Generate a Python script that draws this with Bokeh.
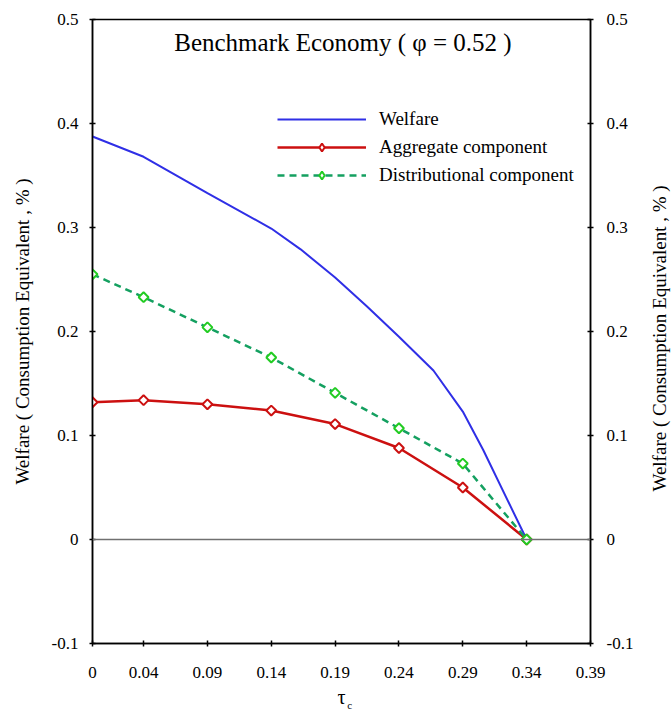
from bokeh.plotting import figure
from bokeh.models import (Range1d, LinearAxis, FixedTicker, Span, Label, Legend, LegendItem,
                          CDSView, IndexFilter)
from bokeh.embed import file_html
from bokeh.resources import INLINE
import numpy as np

# ---- data ----
tau_points = [0, 0.04, 0.09, 0.14, 0.19, 0.24, 0.29, 0.34]
aggregate = [0.132, 0.134, 0.130, 0.124, 0.111, 0.088, 0.050, 0.0]
distributional = [0.255, 0.233, 0.204, 0.175, 0.141, 0.107, 0.073, 0.0]
welfare_tau = [0, 0.04, 0.09, 0.14, 0.163, 0.19, 0.215, 0.24, 0.267, 0.29, 0.306, 0.34]
welfare = [0.3875, 0.368, 0.333, 0.299, 0.279, 0.252, 0.224, 0.195, 0.1625, 0.123, 0.086, 0.0]

x_ticks = [0, 0.04, 0.09, 0.14, 0.19, 0.24, 0.29, 0.34, 0.39]
x_tick_labels = ["0", "0.04", "0.09", "0.14", "0.19", "0.24", "0.29", "0.34", "0.39"]
y_ticks = [-0.1, 0, 0.1, 0.2, 0.3, 0.4, 0.5]
y_tick_labels = ["-0.1", "0", "0.1", "0.2", "0.3", "0.4", "0.5"]

title_text = "Benchmark Economy ( \u03c6 = 0.52 )"
y_label = "Welfare ( Consumption Equivalent , % )"
x_label = "\u03c4"
x_label_sub = "c"
series_names = ["Welfare", "Aggregate component", "Distributional component"]

FONT = "Liberation Serif"
BLUE = "#2F2FE6"
RED = "#CC1010"
GREEN_LINE = "#14A060"
GREEN_MARK = "#22CC22"

p = figure(frame_width=498, frame_height=624,
           min_border_left=92, min_border_right=78, min_border_top=19, min_border_bottom=0,
           x_range=Range1d(0, 0.39), y_range=Range1d(-0.1, 0.5),
           output_backend="svg", toolbar_location=None)
p.xgrid.visible = False
p.ygrid.visible = False
p.outline_line_color = "black"
p.outline_line_width = 1.5
p.background_fill_color = "white"
p.border_fill_color = "white"

# zero line
p.add_layout(Span(location=0, dimension="width", line_color="#707070", line_width=1.5))

# axes
def style_axis(ax, ticks, labels):
    ax.ticker = FixedTicker(ticks=ticks)
    ax.major_label_overrides = {t: l for t, l in zip(ticks, labels)}
    ax.minor_tick_line_color = None
    ax.major_tick_in = 3
    ax.major_tick_out = 3
    ax.major_tick_line_color = "black"
    ax.major_tick_line_width = 1.5
    ax.axis_line_color = "black"
    ax.axis_line_width = 1.5
    ax.major_label_text_font = FONT
    ax.major_label_text_font_size = "17px"
    ax.major_label_text_color = "black"
    ax.axis_label_text_font = FONT
    ax.axis_label_text_font_style = "normal"
    ax.axis_label_text_font_size = "19px"
    ax.axis_label_text_color = "black"

xa = p.xaxis[0]
style_axis(xa, x_ticks, x_tick_labels)
xa.major_label_standoff = 20
xa.axis_label = x_label
xa.axis_label_text_font_size = "20px"
xa.axis_label_standoff = 5

ya = p.yaxis[0]
style_axis(ya, y_ticks, y_tick_labels)
ya.major_label_standoff = 11
ya.axis_label = y_label
ya.axis_label_standoff = 16

ra = LinearAxis()
style_axis(ra, y_ticks, y_tick_labels)
ra.major_label_standoff = 13
ra.axis_label_standoff = 23
# right-hand label reads bottom-to-top like the left one; it is anchored at the
# frame's bottom and pushed up to the middle with em spaces
ra.axis_label = "\u2003" * 8 + y_label
try:
    ra.axis_label_orientation = np.pi / 2
    ra.axis_label_align = "start"
except Exception:
    ra.axis_label = y_label
p.add_layout(ra, "right")

# subscript "c" of the x-axis label, drawn as the single label of an extra bare axis
sub_pos = 0.2014
sa = LinearAxis(ticker=FixedTicker(ticks=[sub_pos]),
                major_label_overrides={sub_pos: x_label_sub})
sa.axis_line_color = None
sa.major_tick_line_color = None
sa.minor_tick_line_color = None
sa.major_tick_in = 0
sa.major_tick_out = 0
sa.major_label_standoff = -12
sa.major_label_text_font = FONT
sa.major_label_text_font_size = "11px"
sa.major_label_text_color = "black"
p.add_layout(sa, "below")

# series
r_w = p.line(welfare_tau, welfare, line_color=BLUE, line_width=2)
r_a = p.line(tau_points, aggregate, line_color=RED, line_width=2.5)
r_d = p.line(tau_points, distributional, line_color=GREEN_LINE, line_width=2.5, line_dash="7 5")

# diamond glyphs used for the legend symbols; only the first point is drawn and it is
# hidden under the rotated-square marker drawn on top of it
leg_am = p.scatter(tau_points, aggregate, marker="diamond", size=9, line_color=RED, line_width=2,
                   fill_color="white", view=CDSView(filter=IndexFilter(indices=[0])))
leg_dm = p.scatter(tau_points, distributional, marker="diamond", size=9, line_color=GREEN_MARK,
                   line_width=2, fill_color="white", view=CDSView(filter=IndexFilter(indices=[0])))

p.scatter(tau_points, aggregate, marker="square", angle=np.pi / 4, size=7,
          line_color=RED, line_width=2, fill_color="white")
p.scatter(tau_points, distributional, marker="square", angle=np.pi / 4, size=7,
          line_color=GREEN_MARK, line_width=2, fill_color="white")

legend = Legend(items=[LegendItem(label=series_names[0], renderers=[r_w]),
                       LegendItem(label=series_names[1], renderers=[r_a, leg_am]),
                       LegendItem(label=series_names[2], renderers=[r_d, leg_dm])],
                location=(185, 457), orientation="vertical",
                glyph_width=89, glyph_height=20, label_height=20, label_standoff=13,
                spacing=6, padding=0, margin=0,
                label_text_font=FONT, label_text_font_size="19px", label_text_color="black",
                border_line_alpha=0, background_fill_alpha=0)
p.add_layout(legend)

# title inside plot
p.add_layout(Label(x=0.064, y=0.478, text=title_text, text_font=FONT, text_font_size="25px",
                   text_color="black", text_align="left", text_baseline="middle"))

open("out.html", "w").write(file_html(p, INLINE))
